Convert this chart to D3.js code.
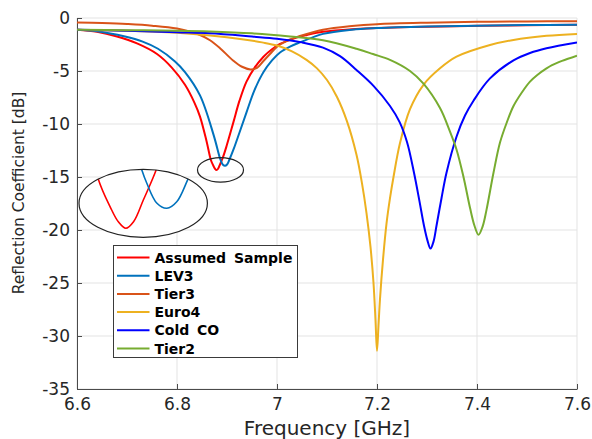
<!DOCTYPE html>
<html>
<head>
<meta charset="utf-8">
<script src="https://cdn.jsdelivr.net/npm/d3@7"></script>
<style>
  body { margin: 0; background: #fff; }
  text { font-family: "DejaVu Sans", sans-serif; }
</style>
</head>
<body>
<svg id="chart"></svg>
<script>
// series (frequency in GHz, reflection in dB)
const seriesNames = ["Assumed Sample", "LEV3", "Tier3", "Euro4", "Cold CO", "Tier2"];
const seriesColors = ["#ff0000", "#0072bd", "#d95319", "#edb120", "#0000ff", "#77ac30"];

const assumedF = [6.6, 6.64, 6.68, 6.72, 6.76, 6.79, 6.816, 6.835, 6.846, 6.859, 6.8676, 6.8725, 6.8759, 6.879, 6.8822, 6.8863, 6.8916, 6.899, 6.913, 6.925, 6.939, 6.955, 6.973, 6.99, 7.006, 7.039, 7.06, 7.092, 7.15, 7.2, 7.3, 7.4, 7.5, 7.6];
const assumedDb = [-1.1, -1.3, -1.75, -2.4, -3.4, -4.7, -6.3, -8.0, -9.3, -11.6, -13.37, -13.92, -14.22, -14.35, -14.22, -13.78, -13.18, -12.1, -9.8, -7.8, -6.0, -4.7, -3.65, -2.95, -2.45, -1.85, -1.6, -1.3, -1.05, -0.95, -0.82, -0.74, -0.68, -0.64];

const lev3F = [6.6, 6.64, 6.696, 6.73, 6.762, 6.796, 6.816, 6.846, 6.873, 6.8856, 6.8877, 6.8919, 6.896, 6.9001, 6.9047, 6.913, 6.925, 6.939, 6.955, 6.973, 6.99, 7.006, 7.026, 7.046, 7.092, 7.15, 7.2, 7.3, 7.4, 7.5, 7.6];
const lev3Db = [-1.1, -1.25, -1.75, -2.2, -2.9, -4.1, -5.1, -7.3, -11.0, -13.18, -13.45, -13.85, -13.95, -13.82, -13.37, -12.4, -10.8, -8.9, -6.8, -5.1, -4.0, -3.25, -2.7, -2.3, -1.5, -1.1, -0.95, -0.8, -0.72, -0.67, -0.64];

const tier3F = [6.6, 6.65, 6.7, 6.75, 6.8, 6.846, 6.866, 6.886, 6.912, 6.93, 6.947, 6.96, 6.972, 6.986, 7.0, 7.02, 7.046, 7.092, 7.15, 7.2, 7.3, 7.4, 7.5, 7.6];
const tier3Db = [-0.42, -0.48, -0.57, -0.72, -1.0, -1.6, -2.1, -2.85, -4.0, -4.6, -4.85, -4.7, -4.1, -3.4, -2.7, -2.15, -1.7, -1.1, -0.75, -0.58, -0.44, -0.36, -0.32, -0.3];

const euro4F = [6.6, 6.7, 6.8, 6.866, 6.93, 6.97, 7.0, 7.03, 7.059, 7.08, 7.1, 7.12, 7.14, 7.159, 7.17, 7.179, 7.187, 7.193, 7.197, 7.2, 7.203, 7.206, 7.212, 7.219, 7.226, 7.233, 7.246, 7.266, 7.293, 7.326, 7.359, 7.426, 7.473, 7.539, 7.6];
const euro4Db = [-1.1, -1.2, -1.4, -1.65, -2.0, -2.3, -2.6, -3.15, -3.95, -4.75, -5.85, -7.45, -9.75, -12.9, -15.6, -18.4, -21.6, -25.0, -28.5, -31.4, -29.0, -26.5, -22.8, -19.4, -17.0, -15.0, -11.8, -8.6, -6.3, -4.75, -3.65, -2.55, -2.07, -1.68, -1.5];

const coldF = [6.6, 6.7, 6.8, 6.866, 6.95, 7.0, 7.05, 7.092, 7.126, 7.159, 7.193, 7.226, 7.245, 7.26, 7.274, 7.285, 7.294, 7.301, 7.307, 7.313, 7.319, 7.329, 7.339, 7.359, 7.376, 7.393, 7.426, 7.473, 7.506, 7.539, 7.6];
const coldDb = [-1.1, -1.2, -1.35, -1.45, -1.75, -1.95, -2.3, -2.8, -3.6, -4.9, -6.4, -8.3, -9.8, -11.7, -14.6, -17.3, -19.6, -21.0, -21.75, -21.1, -19.6, -17.0, -14.6, -11.2, -9.2, -7.8, -5.7, -4.0, -3.3, -2.85, -2.3];

const tier2F = [6.6, 6.7, 6.8, 6.866, 6.95, 7.026, 7.092, 7.159, 7.192, 7.226, 7.266, 7.293, 7.326, 7.345, 7.359, 7.373, 7.386, 7.395, 7.403, 7.411, 7.419, 7.433, 7.446, 7.46, 7.473, 7.49, 7.506, 7.52, 7.539, 7.55, 7.57, 7.6];
const tier2Db = [-1.1, -1.15, -1.2, -1.27, -1.45, -1.75, -2.1, -2.9, -3.4, -3.95, -5.0, -6.2, -8.5, -10.6, -12.4, -15.0, -17.9, -19.6, -20.45, -19.7, -18.1, -14.6, -11.75, -9.8, -8.3, -7.0, -6.0, -5.4, -4.76, -4.45, -4.05, -3.55];

const xTicks = [6.6, 6.8, 7.0, 7.2, 7.4, 7.6];
const yTicks = [0, -5, -10, -15, -20, -25, -30, -35];

const seriesF = [assumedF, lev3F, tier3F, euro4F, coldF, tier2F];
const seriesDb = [assumedDb, lev3Db, tier3Db, euro4Db, coldDb, tier2Db];

const width = 592, height = 439;
const svg = d3.select("#chart").attr("width", width).attr("height", height);

const x = d3.scaleLinear().domain([6.6, 7.6]).range([77, 577]);
const y = d3.scaleLinear().domain([-35, 0]).range([389, 18]);

const series = seriesNames.map((name, i) => ({
    name: name,
    color: seriesColors[i],
    points: seriesF[i].map((f, j) => [f, seriesDb[i][j]])
}));

// grid
svg.append("g").selectAll("line").data(xTicks).enter().append("line")
    .attr("x1", d => x(d)).attr("x2", d => x(d))
    .attr("y1", y(-35)).attr("y2", y(0))
    .attr("stroke", "#e3e3e3").attr("stroke-width", 1);
svg.append("g").selectAll("line").data(yTicks).enter().append("line")
    .attr("x1", x(6.6)).attr("x2", x(7.6))
    .attr("y1", d => y(d)).attr("y2", d => y(d))
    .attr("stroke", "#e3e3e3").attr("stroke-width", 1);

// axes (left and bottom only, ticks pointing inward)
const xAxis = svg.append("g")
    .attr("transform", "translate(0," + y(-35) + ")")
    .call(d3.axisBottom(x).tickValues(xTicks).tickSizeInner(-5).tickSizeOuter(0).tickPadding(9)
        .tickFormat(d => String(+d.toFixed(1))));
const yAxis = svg.append("g")
    .attr("transform", "translate(" + x(6.6) + ",0)")
    .call(d3.axisLeft(y).tickValues(yTicks).tickSizeInner(-5).tickSizeOuter(0).tickPadding(7)
        .tickFormat(d => String(d)));
[xAxis, yAxis].forEach(g => {
    g.select(".domain").attr("stroke", "#4a4a4a");
    g.selectAll(".tick line").attr("stroke", "#4a4a4a");
    g.selectAll(".tick text").attr("fill", "#262626")
        .style("font-family", "DejaVu Sans").style("font-size", "17px");
});

// axis titles
svg.append("text")
    .attr("x", x(7.1)).attr("y", 435)
    .attr("text-anchor", "middle")
    .attr("fill", "#262626")
    .style("font-size", "20px")
    .text("Frequency [GHz]");
svg.append("text")
    .attr("transform", "translate(24,193) rotate(-90)")
    .attr("text-anchor", "middle")
    .attr("fill", "#262626")
    .style("font-size", "15.5px")
    .text("Reflection Coefficient [dB]");

// curves
svg.append("clipPath").attr("id", "plotClip").append("rect")
    .attr("x", x(6.6)).attr("y", y(0) - 2)
    .attr("width", x(7.6) - x(6.6)).attr("height", y(-35) - y(0) + 2);

const line = d3.line().x(d => x(d[0])).y(d => y(d[1])).curve(d3.curveCatmullRom.alpha(0.5));

svg.append("g").attr("clip-path", "url(#plotClip)")
    .selectAll("path").data(series).enter().append("path")
    .attr("d", d => line(d.points))
    .attr("fill", "none")
    .attr("stroke", d => d.color)
    .attr("stroke-width", 2);

// small ellipse marking the dips
svg.append("ellipse")
    .attr("cx", x(6.887)).attr("cy", y(-14.33))
    .attr("rx", 23).attr("ry", 12.2)
    .attr("fill", "none").attr("stroke", "#222").attr("stroke-width", 1.2);

// magnified inset
const ins = { cx: 143.2, cy: 203.3, rx: 64.2, ry: 34 };
const insetX = d3.scaleLinear().domain([6.8596, 6.9128]).range([ins.cx - ins.rx, ins.cx + ins.rx]);
const insetY = d3.scaleLinear().domain([-13.17, -14.53]).range([ins.cy - ins.ry, ins.cy + ins.ry]);

svg.append("clipPath").attr("id", "insetClip").append("ellipse")
    .attr("cx", ins.cx).attr("cy", ins.cy).attr("rx", ins.rx).attr("ry", ins.ry);

svg.append("ellipse")
    .attr("cx", ins.cx).attr("cy", ins.cy).attr("rx", ins.rx).attr("ry", ins.ry)
    .attr("fill", "#fff");

const insetLine = d3.line().x(d => insetX(d[0])).y(d => insetY(d[1])).curve(d3.curveCatmullRom.alpha(0.5));
svg.append("g").attr("clip-path", "url(#insetClip)")
    .selectAll("path").data(series.slice(0, 2)).enter().append("path")
    .attr("d", d => insetLine(d.points))
    .attr("fill", "none")
    .attr("stroke", d => d.color)
    .attr("stroke-width", 1.6);

svg.append("ellipse")
    .attr("cx", ins.cx).attr("cy", ins.cy).attr("rx", ins.rx).attr("ry", ins.ry)
    .attr("fill", "none").attr("stroke", "#222").attr("stroke-width", 1.2);

// legend
const lg = svg.append("g").attr("transform", "translate(113.5,245.5)");
lg.append("rect")
    .attr("width", 184).attr("height", 112)
    .attr("fill", "#fff").attr("stroke", "#3a3a3a").attr("stroke-width", 1);
const rows = lg.selectAll("g.row").data(series).enter().append("g")
    .attr("class", "row")
    .attr("transform", (d, i) => "translate(0," + (12 + i * 18.2) + ")");
rows.append("line")
    .attr("x1", 3.5).attr("x2", 36)
    .attr("stroke", d => d.color).attr("stroke-width", 2);
rows.append("text")
    .attr("x", 41).attr("dy", "0.36em")
    .attr("fill", "#000")
    .style("font-weight", "bold")
    .style("font-size", "14px")
    .style("word-spacing", "3px")
    .text(d => d.name);
</script>
</body>
</html>
